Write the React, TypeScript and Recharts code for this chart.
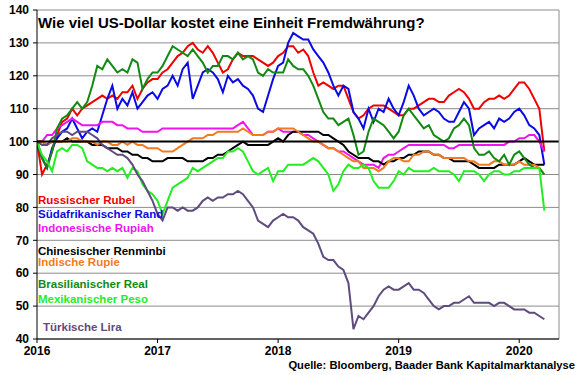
import React from 'react';
import { LineChart, Line, XAxis, YAxis, CartesianGrid, ReferenceLine } from 'recharts';

// semi-monthly readings from Jan 2016 to mid-March 2020 (index / 24 = years since 2016)
const START_YEAR = 2016;
const STEPS_PER_YEAR = 24;

const rubel = [
  100, 90, 93, 97, 102, 106, 107, 110, 108, 110, 111, 112, 113, 114, 113, 114, 113, 115, 115, 117, 113, 116, 118, 119,
  119, 121, 122, 124, 126, 127, 129, 130, 128, 127, 129, 127, 124, 121, 122, 125, 127, 126, 126, 126, 125, 124, 123, 124, 126,
  127, 129, 129, 127, 128, 126, 121, 117, 118, 117, 116, 117, 117, 113, 109, 107, 108, 110, 111, 111, 111, 110, 109, 108,
  108, 110, 110, 111, 112, 113, 113, 112, 112, 114, 115, 116, 115, 113, 110, 110, 112, 113, 113, 114, 113, 114, 116, 118, 118, 116, 113, 110, 97,
];
const rand = [
  100, 95, 92, 98, 101, 103, 104, 107, 104, 101, 103, 104, 103, 108, 113, 117, 110, 113, 111, 115, 110, 112, 114, 115,
  113, 116, 117, 120, 117, 122, 124, 113, 117, 121, 122, 121, 119, 115, 120, 118, 119, 117, 116, 114, 110, 109, 114, 119, 123,
  124, 130, 133, 132, 131, 131, 128, 126, 124, 121, 117, 114, 117, 116, 109, 107, 104, 110, 106, 110, 109, 113, 110, 108,
  112, 117, 114, 110, 108, 109, 110, 109, 107, 106, 106, 109, 112, 110, 102, 104, 105, 106, 104, 107, 106, 107, 109, 110, 108, 105, 104, 102, 93,
];
const rupiah = [
  100, 100, 102, 102, 104, 105, 106, 107, 106, 105, 105, 105, 105, 106, 106, 106, 105, 105, 104, 104, 104, 103, 103, 103,
  103, 104, 104, 104, 104, 104, 104, 104, 104, 104, 104, 104, 104, 104, 104, 104, 105, 106, 104, 102, 102, 102, 103, 103, 104,
  103, 103, 103, 103, 102, 102, 101, 100, 99, 98, 98, 97, 97, 96, 95, 94, 93, 93, 93, 92, 95, 96, 96, 97,
  98, 99, 99, 99, 99, 99, 99, 99, 99, 98, 98, 99, 99, 99, 99, 99, 99, 99, 99, 99, 99, 100, 100, 101, 101, 102, 102, 100, 97,
];
const renminbi = [
  100, 100, 99, 100, 100, 100, 101, 100, 100, 100, 100, 99, 99, 99, 98, 98, 98, 97, 97, 96, 96, 95, 95, 94,
  94, 94, 95, 95, 95, 95, 94, 94, 94, 94, 95, 95, 96, 96, 97, 98, 99, 100, 99, 99, 99, 99, 99, 100, 101,
  100, 102, 103, 103, 103, 103, 103, 103, 102, 102, 101, 100, 99, 97, 96, 95, 95, 95, 94, 94, 93, 94, 94, 95,
  95, 96, 96, 97, 97, 97, 96, 96, 95, 95, 94, 94, 94, 94, 93, 92, 92, 92, 92, 93, 93, 93, 93, 94, 95, 94, 93, 93, 93,
];
const rupie = [
  100, 100, 99, 100, 100, 100, 100, 101, 101, 100, 100, 100, 99, 100, 100, 99, 99, 100, 99, 100, 99, 99, 98, 98,
  98, 97, 97, 97, 98, 99, 100, 101, 101, 101, 102, 102, 103, 103, 103, 103, 103, 104, 103, 102, 102, 102, 103, 103, 104,
  104, 104, 104, 103, 102, 101, 100, 100, 99, 98, 98, 97, 96, 95, 94, 94, 92, 92, 92, 91, 92, 94, 95, 95,
  94, 94, 96, 96, 97, 97, 96, 96, 95, 95, 95, 95, 95, 94, 94, 93, 93, 93, 94, 94, 93, 93, 93, 94, 93, 93, 93, 92, 90,
];
const real = [
  100, 95, 92, 97, 104, 107, 108, 110, 112, 110, 112, 117, 123, 122, 125, 123, 121, 122, 121, 125, 124, 116, 119, 121,
  121, 123, 126, 129, 128, 127, 126, 128, 126, 124, 121, 123, 123, 126, 126, 125, 127, 125, 126, 125, 121, 120, 122, 121, 121,
  121, 125, 123, 122, 122, 120, 117, 113, 109, 107, 107, 105, 106, 107, 102, 96, 97, 103, 107, 106, 105, 103, 101, 103,
  108, 110, 108, 106, 104, 105, 102, 101, 100, 101, 104, 105, 107, 105, 98, 96, 96, 97, 95, 94, 96, 93, 96, 97, 95, 93, 92, 92, 90,
];
const peso = [
  100, 96, 94, 91, 97, 98, 97, 99, 99, 98, 94, 93, 92, 92, 91, 92, 91, 92, 89, 92, 91, 87, 85, 84,
  82, 78, 82, 86, 87, 88, 89, 92, 91, 92, 93, 94, 95, 95, 97, 97, 98, 97, 94, 91, 90, 91, 92, 88, 91,
  91, 93, 93, 93, 93, 94, 95, 94, 92, 90, 85, 87, 91, 93, 92, 92, 93, 92, 88, 86, 86, 86, 88, 91,
  90, 92, 91, 91, 91, 91, 92, 91, 91, 91, 90, 88, 91, 91, 91, 90, 88, 90, 91, 91, 90, 90, 91, 91, 92, 92, 92, 92, 79,
];
const lira = [
  100, 99, 99, 101, 102, 103, 103, 102, 103, 103, 103, 102, 101, 99, 98, 97, 96, 96, 95, 93, 90, 88, 85, 82,
  78, 76, 80, 80, 79, 80, 79, 79, 80, 82, 83, 82, 83, 83, 84, 84, 85, 84, 82, 80, 76, 75, 74, 76, 77,
  78, 77, 77, 76, 74, 73, 72, 69, 65, 64, 64, 62, 61, 57, 43, 47, 46, 48, 50, 53, 55, 56, 55, 55,
  56, 57, 55, 55, 54, 52, 50, 49, 50, 50, 51, 51, 52, 53, 51, 51, 51, 51, 50, 51, 51, 50, 49, 49, 49, 48, 48, 47, 46,
];

const yTicks = [40, 50, 60, 70, 80, 90, 100, 110, 120, 130, 140];
const yearTicks = [2016, 2017, 2018, 2019, 2020];

const series = [
  { key: 'rubel', label: 'Russischer Rubel', color: '#f00000', values: rubel },
  { key: 'rand', label: 'Südafrikanischer Rand', color: '#0a0ae6', values: rand },
  { key: 'rupiah', label: 'Indonesische Rupiah', color: '#f014f0', values: rupiah },
  { key: 'renminbi', label: 'Chinesischer Renminbi', color: '#000000', values: renminbi },
  { key: 'rupie', label: 'Indische Rupie', color: '#f57a1e', values: rupie },
  { key: 'real', label: 'Brasilianischer Real', color: '#128a12', values: real },
  { key: 'peso', label: 'Mexikanischer Peso', color: '#22ee22', values: peso },
  { key: 'lira', label: 'Türkische Lira', color: '#5f4b7d', values: lira },
];

const data = rubel.map((_, i) => {
  const row: Record<string, number> = { t: START_YEAR + i / STEPS_PER_YEAR };
  series.forEach(s => { row[s.key] = s.values[i]; });
  return row;
});

// baselines of the in-plot labels
const labelY = [204, 218, 232, 255, 266, 288, 303, 331];

const FONT = '"Liberation Sans", Arial, sans-serif';
const tickStyle = { fontSize: 12, fontWeight: 700, fill: '#000', fontFamily: FONT };

const App: React.FC = () => {
  return (
    <div style={{ position: 'relative', width: 580, height: 375, background: '#fff', fontFamily: FONT }}>
      <style>{'body{margin:0}'}</style>
      <LineChart width={580} height={375} data={data} margin={{ top: 10, right: 21, bottom: 0, left: 0 }}>
        <CartesianGrid vertical={false} stroke="#8c8c8c" />
        <XAxis
          type="number"
          dataKey="t"
          domain={[2016, 2020.33]}
          allowDataOverflow
          ticks={yearTicks}
          tickFormatter={v => String(Math.round(v))}
          height={36}
          tickSize={4}
          tickMargin={3}
          tick={tickStyle}
          axisLine={{ stroke: '#000' }}
          tickLine={{ stroke: '#000' }}
        />
        <YAxis
          type="number"
          domain={[40, 140]}
          ticks={yTicks}
          interval={0}
          width={37}
          tickSize={4}
          tickMargin={4}
          tick={tickStyle}
          axisLine={{ stroke: '#000' }}
          tickLine={{ stroke: '#000' }}
        />
        {series.map(s => (
          <Line
            key={s.key}
            type="linear"
            dataKey={s.key}
            stroke={s.color}
            strokeWidth={2}
            dot={false}
            isAnimationActive={false}
          />
        ))}
        <ReferenceLine y={100} stroke="#000" strokeWidth={2} />
        <ReferenceLine x={2020.33} stroke="#8c8c8c" />
      </LineChart>
      <svg width={580} height={375} style={{ position: 'absolute', left: 0, top: 0, pointerEvents: 'none' }}>
        <text x={38} y={28} fontSize={15} fontWeight={700} fill="#000" fontFamily={FONT}>
          Wie viel US-Dollar kostet eine Einheit Fremdwährung?
        </text>
        {series.map((s, i) => (
          <text
            key={s.key}
            x={s.key === 'lira' ? 43 : 38}
            y={labelY[i]}
            fontSize={11.5}
            fontWeight={700}
            fill={s.color}
            fontFamily={FONT}
          >
            {s.label}
          </text>
        ))}
        <text x={575} y={369} textAnchor="end" fontSize={11.2} fontWeight={700} fill="#000" fontFamily={FONT}>
          Quelle: Bloomberg, Baader Bank Kapitalmarktanalyse
        </text>
      </svg>
    </div>
  );
};

export default App;
